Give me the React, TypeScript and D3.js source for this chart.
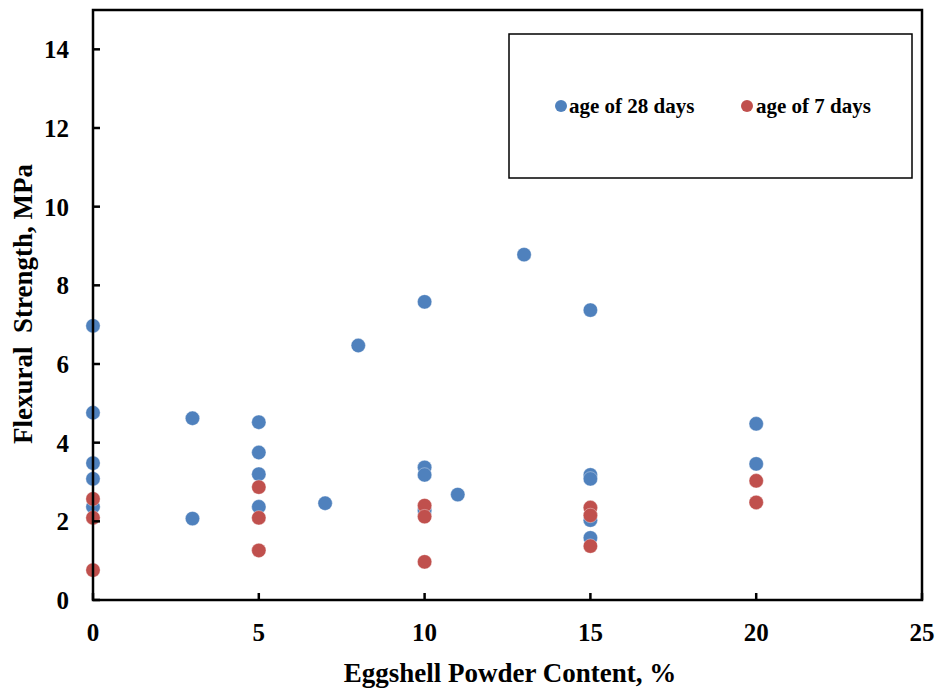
import React from "react";
import * as d3 from "d3";

const xTicks = [0, 5, 10, 15, 20, 25];
const yTicks = [0, 2, 4, 6, 8, 10, 12, 14];

const age28X = [0, 0, 0, 0, 0, 3, 3, 5, 5, 5, 5, 7, 8, 10, 10, 10, 10, 11, 13, 15, 15, 15, 15, 15, 20, 20];
const age28Y = [6.97, 4.76, 3.48, 3.08, 2.37, 4.62, 2.07, 4.52, 3.75, 3.2, 2.37, 2.46, 6.47, 7.58, 3.37, 3.18, 2.27, 2.68, 8.78, 7.37, 3.18, 3.08, 2.03, 1.58, 4.48, 3.46];

const age7X = [0, 0, 0, 5, 5, 5, 10, 10, 10, 15, 15, 15, 20, 20];
const age7Y = [2.57, 2.09, 0.76, 2.87, 2.09, 1.26, 2.4, 2.12, 0.97, 2.35, 2.15, 1.37, 3.03, 2.48];

const seriesNames = ["age of 28 days", "age of 7 days"];
const seriesColors = ["#4F81BD", "#C0504D"];

const W = 940;
const H = 692;
const plot = { left: 93, right: 922, top: 10, bottom: 600 };
const font = "'Liberation Serif', 'Times New Roman', serif";

export default function App() {
  const x = d3.scaleLinear().domain([0, 25]).range([plot.left, plot.right]);
  const y = d3.scaleLinear().domain([0, 15]).range([plot.bottom, plot.top]);

  const series = [
    { name: seriesNames[0], color: seriesColors[0], pts: age28X.map((v, i) => [v, age28Y[i]]) },
    { name: seriesNames[1], color: seriesColors[1], pts: age7X.map((v, i) => [v, age7Y[i]]) },
  ];

  return (
    <svg width={W} height={H} style={{ position: "absolute", left: 0, top: 0, background: "#fff" }} fontFamily={font}>
      <rect x={0} y={0} width={W} height={H} fill="#fff" />
      {series.map((s) =>
        s.pts.map((p, i) => (
          <circle key={s.name + i} cx={x(p[0])} cy={y(p[1])} r={7.2} fill={s.color} stroke="#fff" strokeWidth={0.6} strokeOpacity={0.6} />
        ))
      )}
      <rect x={plot.left} y={plot.top} width={plot.right - plot.left} height={plot.bottom - plot.top} fill="none" stroke="#000" strokeWidth={2.5} />
      {yTicks.map((t) => (
        <g key={"y" + t}>
          <line x1={plot.left} x2={plot.left + 7} y1={y(t)} y2={y(t)} stroke="#000" strokeWidth={2.5} />
          <text x={plot.left - 24} y={y(t)} dy="0.36em" textAnchor="end" fontSize={25} fontWeight="bold">{t}</text>
        </g>
      ))}
      {xTicks.map((t) => (
        <g key={"x" + t}>
          <line x1={x(t)} x2={x(t)} y1={plot.bottom} y2={plot.bottom - 7} stroke="#000" strokeWidth={2.5} />
          <text x={x(t)} y={641} textAnchor="middle" fontSize={25} fontWeight="bold">{t}</text>
        </g>
      ))}
      <text x={510} y={682} textAnchor="middle" fontSize={27} fontWeight="bold">Eggshell Powder Content, %</text>
      <text transform={`translate(32,304) rotate(-90)`} textAnchor="middle" fontSize={27} fontWeight="bold" style={{ whiteSpace: "pre" }}>Flexural  Strength, MPa</text>
      <rect x={509} y={34} width={403} height={144} fill="#fff" stroke="#000" strokeWidth={1.5} />
      <circle cx={561} cy={106} r={6} fill={seriesColors[0]} />
      <text x={569} y={106} dy="0.35em" fontSize={21} fontWeight="bold">{seriesNames[0]}</text>
      <circle cx={747} cy={106} r={6} fill={seriesColors[1]} />
      <text x={756} y={106} dy="0.35em" fontSize={21} fontWeight="bold">{seriesNames[1]}</text>
    </svg>
  );
}
